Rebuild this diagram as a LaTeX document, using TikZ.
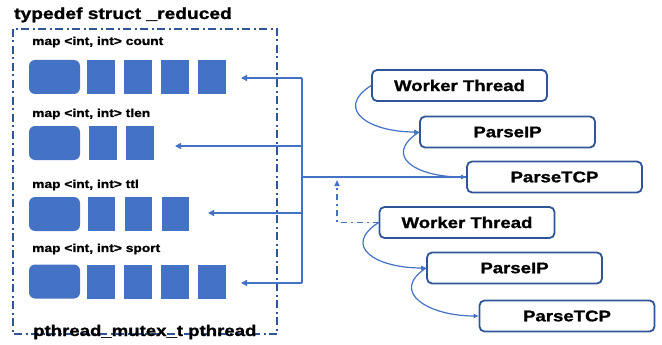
\documentclass[tikz,border=0pt]{standalone}
\usepackage{fontspec}
\setmainfont{Liberation Sans}
\newfontfamily\wide{Liberation Sans}[FakeStretch=1.2,FakeBold=1.2]
\usetikzlibrary{arrows.meta,positioning}
\tikzset{
  keycell/.style={fill=cellblue,draw=none,rounded corners=6pt,minimum width=51pt,minimum height=34pt,inner sep=0pt},
  valcell/.style={fill=cellblue,draw=none,minimum width=27.5pt,minimum height=34pt,inner sep=0pt},
  maplabel/.style={anchor=west,inner sep=0pt,font=\wide\bfseries\fontsize{11.5}{12}\selectfont},
  biglabel/.style={anchor=base west,inner sep=0pt,font=\wide\bfseries\fontsize{15.5}{17}\selectfont},
  task/.style={draw=edgeblue,line width=1.8pt,rounded corners=5pt,fill=white,minimum width=175pt,minimum height=31pt,inner sep=0pt,font=\wide\bfseries\fontsize{15.5}{17}\selectfont},
  busline/.style={draw=cellblue,line width=2pt},
  callto/.style={busline,-{Triangle[length=6pt,width=6pt]}},
  flow/.style={draw=cellblue,line width=1.2pt,-{Triangle[length=5pt,width=4.5pt]}},
  spawn/.style={draw=cellblue,line width=1.6pt,dash pattern=on 6pt off 4pt on 2pt off 4pt,-{Triangle[length=6pt,width=5pt]}},
}
\begin{document}
\begin{tikzpicture}[x=1pt,y=-1pt]
\definecolor{cellblue}{HTML}{4472C4}
\definecolor{edgeblue}{HTML}{2F5597}
\useasboundingbox (0,0) rectangle (662,345);
% the struct and its lock
\draw[edgeblue,line width=1.8pt,dash pattern=on 8pt off 3.5pt on 2pt off 3.5pt] (13,29) rectangle (277,334);
\node[biglabel,font=\wide\bfseries\fontsize{16}{18}\selectfont] (title) at (14,19) {typedef struct \_reduced};
\node[biglabel] (lock) at (33,336) {pthread\_mutex\_t pthread};
% the four maps
\foreach \name/\y/\n/\laby/\x in {count/77/4/42/87, tlen/143/2/114/89, ttl/214/3/185/87.5, sport/281.5/4/249/87}{
  \node[maplabel] (lab-\name) at (32,\laby) {map <int, int> \name};
  \node[keycell] (\name-k) at (54.5,\y) {};
  \foreach \i in {1,...,\n}
    \node[valcell] (\name-\i) at (\x+13.75+37*\i-37,\y) {};
}
\coordinate (count-in) at (241,78);
\coordinate (tlen-in) at (175,146);
\coordinate (ttl-in) at (208,213);
\coordinate (sport-in) at (241,283);
\coordinate (bus-top) at (302,78);
\coordinate (bus-bot) at (302,283);
\draw[busline] (bus-top) -- (bus-bot);
\draw[callto] (bus-top) -- (count-in);
\draw[callto] (bus-top |- tlen-in) -- (tlen-in);
\draw[callto] (bus-top |- ttl-in) -- (ttl-in);
\draw[callto] (bus-bot) -- (sport-in);
% worker threads
\node[task] (wt1) at (459.5,85.5) {Worker Thread};
\node[task] (ip1) at (507.5,132) {ParseIP};
\node[task] (tcp1) at (554.5,177) {ParseTCP};
\node[task] (wt2) at (467,222.5) {Worker Thread};
\node[task] (ip2) at (514.5,268) {ParseIP};
\node[task] (tcp2) at (567,316) {ParseTCP};
\draw[busline] (tcp1.west) -- (bus-top |- tcp1.west);
\draw[flow] (wt1.west) .. controls +(-37,24) and +(-50,0) .. (ip1.west);
\draw[flow] (ip1.west) .. controls +(-37,24) and +(-50,0) .. (tcp1.west);
\draw[flow] (wt2.west) .. controls +(-37,24) and +(-50,0) .. (ip2.west);
\draw[flow] (ip2.west) .. controls +(-37,24) and +(-50,0) .. (tcp2.west);
\coordinate (tap) at (337,180);
\draw[spawn] (wt2.west) -| (tap);
\end{tikzpicture}
\end{document}
